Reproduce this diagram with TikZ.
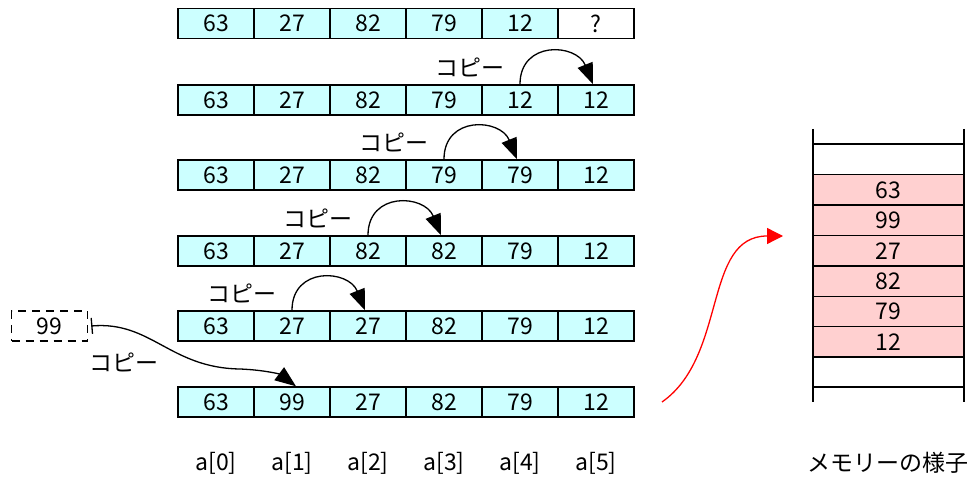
\documentclass[tikz,border=0pt]{standalone}
\usepackage{fontspec}
\setmainfont{Noto Sans CJK JP}
\usetikzlibrary{arrows.meta,positioning}
\definecolor{cellcyan}{HTML}{CCFFFF}
\definecolor{mempink}{HTML}{FFD0D0}

\begin{document}
\begin{tikzpicture}[x=0.5pt,y=0.5pt,
  every node/.style={font=\fontsize{11.5}{13}\selectfont},
  cell/.style={draw, line width=0.7pt, fill=cellcyan, minimum width=38pt, minimum height=15pt, inner sep=0pt},
  memcell/.style={draw, line width=0.7pt, fill=mempink, minimum width=75.5pt, minimum height=15.2pt, inner sep=0pt},
  copyarc/.style={-{Triangle[length=10.5pt,width=8pt]}, line width=0.65pt},
  copylabel/.style={anchor=east, inner sep=0pt}]
\useasboundingbox (0,0) rectangle (975,477);

% array rows
\foreach \v [count=\i from 0] in {63,27,82,79,12}
  \node[cell] (r1-\i) at ({216+76*\i},453.5) {\v};
\node[cell, fill=white] (r1-5) at (596,453.5) {?};
\foreach \r/\y/\vals in {2/377/{63,27,82,79,12,12}, 3/302/{63,27,82,79,79,12},
    4/226/{63,27,82,82,79,12}, 5/151/{63,27,27,82,79,12}, 6/75/{63,99,27,82,79,12}}
  \foreach \v [count=\i from 0] in \vals
    \node[cell] (r\r-\i) at ({216+76*\i},\y) {\v};

% copies
\foreach \r/\a/\b in {2/4/5, 3/3/4, 4/2/3, 5/1/2} {
  \draw[copyarc] (r\r-\a.north) to[out=90, in=112, looseness=1.55] ([xshift=-1.5pt]r\r-\b.north);
  \node[copylabel] (copy\r) at ([xshift=-7.5pt, yshift=8.5pt]r\r-\a.north) {コピー};
}

% inserted value
\node[cell, fill=white, dashed, dash pattern=on 4pt off 3pt] (box99) at (49.5,151) {99};
\coordinate (mid99) at (240,108);
\draw[line width=0.65pt, {Bar[width=8pt]}-{Triangle[length=10.5pt,width=8pt]}]
  ([xshift=1.5pt]box99.east) .. controls +(60,5) and +(-70,1) .. (mid99)
  .. controls +(25,-1) and +(-16,12) .. ([xshift=2pt]r6-1.north);
\node (copy6) at (124,115) {コピー};

% indices
\foreach \i in {0,...,5}
  \node (idx\i) at ({216+76*\i},14) {a[\i]};

% memory
\coordinate (redstart) at (662,75);
\coordinate (redend) at (783,241);
\draw[red, line width=0.65pt, -{Triangle[length=8pt,width=8pt]}] (redstart) to[out=35, in=180] (redend);
\foreach \v [count=\i from 0] in {63,99,27,82,79,12}
  \node[memcell] (mem-\i) at (888.5,{287-30.4*\i}) {\v};
\draw[line width=0.7pt] (813,348) -- (813,75) (964,348) -- (964,75)
  (813,333) -- (964,333) (813,90) -- (964,90);
\node (memlabel) at (888,14) {メモリーの様子};
\end{tikzpicture}
\end{document}
